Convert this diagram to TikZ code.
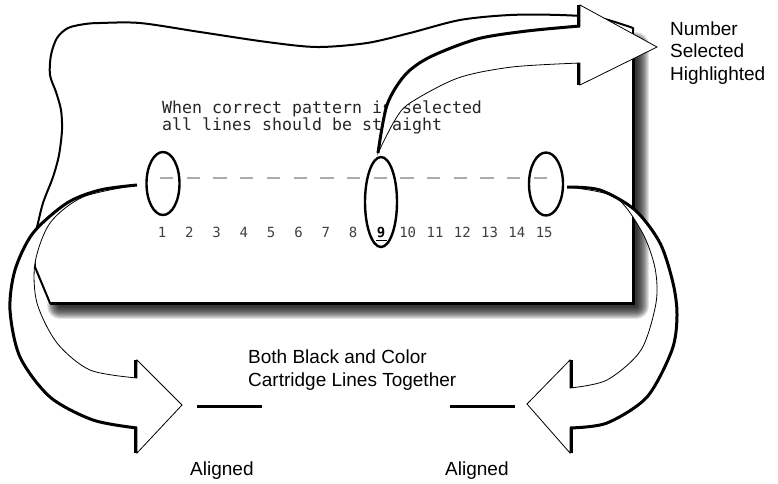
\documentclass[tikz,border=0pt]{standalone}
\usepackage{fontspec}
\setmainfont{Liberation Sans}
\newfontfamily\monofnt{DejaVu Sans Mono}
\usetikzlibrary{shapes.geometric}
\tikzset{
  paperedge/.style={line width=2pt, line join=round, fill=white},
  arrowbody/.style={fill=white, draw=black, line width=0.8pt, line join=miter},
  thickedge/.style={line width=3pt},
  ring/.style={ellipse, draw=black, line width=2.4pt, inner sep=0pt},
  numlbl/.style={font=\monofnt\fontsize{14}{14}\selectfont, text=black!75, anchor=base, inner sep=0pt},
  codetxt/.style={font=\monofnt\fontsize{16.6}{17}\selectfont, text=black!85, anchor=base west, inner sep=0pt},
  lbl/.style={font=\fontsize{19}{22}\selectfont, anchor=base west, inner sep=0pt},
  tick/.style={line width=3pt}
}
\begin{document}
\begin{tikzpicture}[x=1pt,y=-1pt]
\useasboundingbox (0,0) rectangle (778,483);

% shadow of the sheet
\foreach \w in {2,4,...,26}
  \draw[black, opacity=0.11, line width=\w pt, line join=round, line cap=round] (636,45) -- (636,306) -- (60,306);

% sheet
\filldraw[paperedge] (50,303) -- (35,267) -- plot[smooth] coordinates {(33,240) (37,227) (43,203) (53,177) (59,155) (62,130) (61,110) (56,92) (50,75) (51,55) (57,38) (68,28) (85,24) (100,23) (140,23) (200,32) (267,42) (317,47) (367,43) (410,33) (460,20) (510,15) (560,15) (600,18) (633,28)} -- (633,303) -- cycle;
\draw[line width=3pt] (633,40) -- (633,303) -- (50,303);

% texts on the sheet
\node[codetxt] (t1) at (162,113) {When correct pattern is selected};
\node[codetxt] (t2) at (162,130) {all lines should be straight};

\draw[black!33, line width=2.8pt, dash pattern=on 13.3pt off 13.4pt] (160,178) -- (548,178);

\node[ring, minimum width=33pt, minimum height=63pt] (e1) at (163,183.5) {};
\node[ring, minimum width=32pt, minimum height=90pt] (e9) at (381,202) {};
\node[ring, minimum width=34pt, minimum height=63pt] (e15) at (546,184) {};

\foreach \i in {1,...,8,10,11,12,13,14,15}
  \node[numlbl] (n\i) at ({162+27.3*(\i-1)},237) {\i};
\node[numlbl, text=black] (n9) at (381,237) {\textbf{9}};
\draw[line width=1.4pt] (376,240.5) -- (387,240.5);

% left arrow
\path[arrowbody] plot[smooth] coordinates {(137,185) (100,190) (67,203) (33,233) (15,270) (10,310) (20,357) (50,397) (93,420) (137,428)}
  -- (137,453) -- (182,405) -- (137,360)
  -- plot[smooth] coordinates {(137,378) (90,370) (57,343) (37,303) (35,263) (50,223) (83,197) (137,185)} -- cycle;
\draw[thickedge] plot[smooth] coordinates {(137,185) (100,190) (67,203) (33,233) (15,270) (10,310) (20,357) (50,397) (93,420) (137,428)};
\draw[thickedge] (135.5,360) -- (135.5,378);
\draw[thickedge] (135.5,428) -- (135.5,453);

% right arrow
\path[arrowbody] plot[smooth] coordinates {(567,187) (600,190) (635,210) (660,243) (673,283) (677,315) (672,350) (647,397) (607,423) (570,428)}
  -- (570,453) -- (527,404) -- (570,360)
  -- plot[smooth] coordinates {(570,388) (607,380) (641,350) (656,303) (655,268) (642,232) (615,197) (567,187)} -- cycle;
\draw[thickedge] plot[smooth] coordinates {(567,187) (600,190) (635,210) (660,243) (673,283) (677,315) (672,350) (647,397) (607,423) (570,428)};
\draw[thickedge] (571.5,360) -- (571.5,388);
\draw[thickedge] (571.5,428) -- (571.5,453);

% top arrow
\path[arrowbody] plot[smooth] coordinates {(378,153) (387,105) (405,75) (430,57) (477,39) (527,31) (580,26)}
  -- (580,5) -- (657,47) -- (580,85)
  -- plot[smooth] coordinates {(580,63) (512,67) (458,78) (410,103) (395,120) (378,153)} -- cycle;
\draw[thickedge] plot[smooth] coordinates {(378,153) (387,105) (405,75) (430,57) (477,39) (527,31) (580,26)};
\draw[thickedge] (578.5,5) -- (578.5,26);
\draw[thickedge] (578.5,63) -- (578.5,85);

% labels
\node[lbl] (l1) at (670,35) {Number};
\node[lbl] (l2) at (670,57.5) {Selected};
\node[lbl] (l3) at (670,80) {Highlighted};

\node[lbl] (b1) at (248,363) {Both Black and Color};
\node[lbl] (b2) at (248,386) {Cartridge Lines Together};

\draw[tick] (197,406) -- (262,406);
\draw[tick] (450,406) -- (515,406);

\node[lbl] (a1) at (190,475) {Aligned};
\node[lbl] (a2) at (445,475) {Aligned};
\end{tikzpicture}
\end{document}
